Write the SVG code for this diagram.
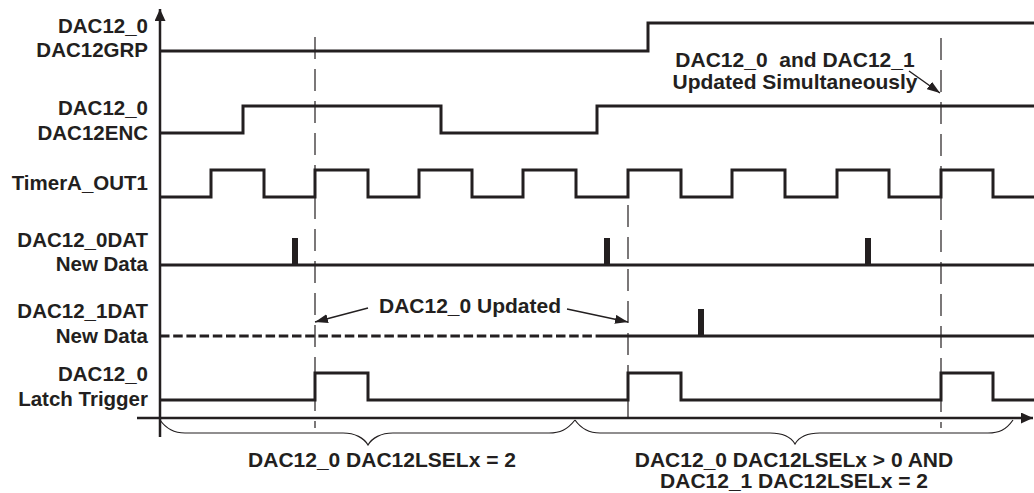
<svg xmlns="http://www.w3.org/2000/svg" width="1034" height="493" viewBox="0 0 1034 493">
<style>
text{font-family:"Liberation Sans",Arial,sans-serif;font-weight:bold;font-size:20.5px;fill:#231f20}
.lbl{text-anchor:end}
.ann{text-anchor:middle;font-size:21px;white-space:pre}
.sig{fill:none;stroke:#231f20;stroke-width:3;stroke-linejoin:miter}
.axis{fill:none;stroke:#231f20;stroke-width:2.5}
.guide{fill:none;stroke:#231f20;stroke-width:1.2;stroke-dasharray:22 10}
.brace{fill:none;stroke:#231f20;stroke-width:1.2}
.arr{fill:none;stroke:#231f20;stroke-width:1.4;marker-end:url(#ah)}
.pulse{fill:#231f20}
</style>
<defs>
<marker id="ah" markerUnits="userSpaceOnUse" markerWidth="14" markerHeight="10" refX="13" refY="4.5" orient="auto">
<path d="M0,0 L13,4.5 L0,9 z" fill="#231f20"/>
</marker>
<marker id="axh" markerUnits="userSpaceOnUse" markerWidth="14" markerHeight="12" refX="12" refY="5.5" orient="auto">
<path d="M0,0 L12,5.5 L0,11 z" fill="#231f20"/>
</marker>
</defs>

<g id="axes">
<line class="axis" x1="160" y1="437" x2="160" y2="9" marker-end="url(#axh)"/>
<line class="axis" x1="137" y1="418" x2="1033" y2="418" marker-end="url(#axh)"/>
</g>

<g id="guides">
<line class="guide" x1="315" y1="37" x2="315" y2="428"/>
<line class="guide" x1="628" y1="205" x2="628" y2="418"/>
<line class="guide" x1="941" y1="38" x2="941" y2="428"/>
</g>

<g id="dac12grp">
<text class="lbl" x="148" y="33">DAC12_0</text>
<text class="lbl" x="148" y="57">DAC12GRP</text>
<path class="sig" d="M160,51 H648 V23 H1034"/>
</g>

<g id="dac12enc">
<text class="lbl" x="148" y="115">DAC12_0</text>
<text class="lbl" x="148" y="140">DAC12ENC</text>
<path class="sig" d="M160,133 H243 V106 H441 V133 H597 V106 H1034"/>
</g>

<g id="timera">
<text class="lbl" x="148" y="190">TimerA_OUT1</text>
<path class="sig" d="M160,197 H211 V170 H264 V197 H315 V170 H368 V197 H419 V170 H472 V197 H523 V170 H576 V197 H628 V170 H681 V197 H732 V170 H785 V197 H837 V170 H889 V197 H941 V170 H993 V197 H1034"/>
</g>

<g id="dat0">
<text class="lbl" x="148" y="247">DAC12_0DAT</text>
<text class="lbl" x="148" y="271">New Data</text>
<path class="sig" d="M160,265 H1034"/>
<rect class="pulse" x="292" y="238" width="6" height="27"/>
<rect class="pulse" x="604" y="238" width="6" height="27"/>
<rect class="pulse" x="865" y="238" width="6" height="27"/>
</g>

<g id="dat1">
<text class="lbl" x="148" y="318">DAC12_1DAT</text>
<text class="lbl" x="148" y="343">New Data</text>
<path class="sig" d="M160,336 H597" stroke-dasharray="9.5 3.7" stroke-width="3.3"/>
<path class="sig" d="M597,336 H1034"/>
<rect class="pulse" x="698" y="309" width="6" height="27"/>
</g>

<g id="latch">
<text class="lbl" x="148" y="381">DAC12_0</text>
<text class="lbl" x="148" y="406">Latch Trigger</text>
<path class="sig" d="M160,400 H315 V373 H368 V400 H628 V373 H681 V400 H941 V373 H993 V400 H1034"/>
</g>

<g id="connectors">
<line class="arr" x1="909" y1="71" x2="940" y2="93"/>
<line class="arr" x1="368" y1="308" x2="315" y2="322"/>
<line class="arr" x1="567" y1="309" x2="628" y2="322"/>
</g>

<g id="annotations">
<text class="ann" x="795" y="67">DAC12_0  and DAC12_1</text>
<text class="ann" x="795" y="89">Updated Simultaneously</text>
<text class="ann" x="470" y="313">DAC12_0 Updated</text>
</g>

<g id="brace1">
<path class="brace" d="M160,420 C167,430 175,433 185,433 L343,433 C355,433 364,438 368,445 C372,438 381,433 393,433 L549,433 C560,433 567,430 575,420"/>
<text class="ann" x="382" y="467">DAC12_0 DAC12LSELx = 2</text>
</g>

<g id="brace2">
<path class="brace" d="M575,420 C582,430 590,433 600,433 L770,433 C782,433 791,437 795,444 C799,437 808,433 820,433 L988,433 C999,433 1006,430 1013,420"/>
<text class="ann" x="794" y="467">DAC12_0 DAC12LSELx &gt; 0 AND</text>
<text class="ann" x="794" y="488">DAC12_1 DAC12LSELx = 2</text>
</g>
</svg>
